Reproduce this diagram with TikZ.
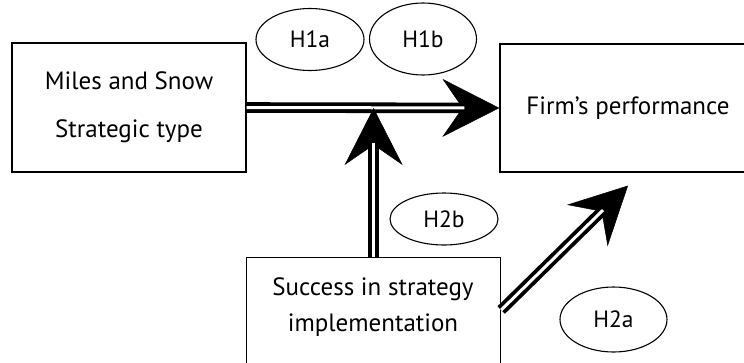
\documentclass[tikz,border=0pt]{standalone}
\usepackage{fontspec}
\setmainfont{PT Sans}
\usetikzlibrary{shapes.geometric, arrows.meta}

\begin{document}
\begin{tikzpicture}[x=1pt, y=-1pt,
    box/.style={draw, line width=1.2pt, inner sep=0pt, align=center, font=\fontsize{25}{48}\selectfont},
    hyp/.style={draw, ellipse, line width=1.1pt, inner sep=0pt, font=\fontsize{23.5}{28}\selectfont},
    link/.style={line width=3.8pt, double distance=3pt, shorten >=35pt},
    head/.style={line width=0.5pt, -{Stealth[length=57pt, width=58pt, inset=20pt]}}]
    \useasboundingbox (0,0) rectangle (744,362);

    % Boxes
    \node[box, minimum width=234pt, minimum height=129pt] (ms) at (129,107.5) {Miles and Snow\\Strategic type};
    \node[box, minimum width=256pt, minimum height=128pt] (fp) at (628,108) {Firm’s performance};
    \node[box, minimum width=254pt, minimum height=150pt, anchor=north west] (si) at (246,257) {};
    \node[font=\fontsize{25}{36}\selectfont, align=center] (sitext) at (373,307) {Success in strategy\\implementation};

    % Hypotheses
    \node[hyp, minimum width=108pt, minimum height=62pt] (h1a) at (310,39.5) {H1a};
    \node[hyp, minimum width=107pt, minimum height=72pt] (h1b) at (423,39) {H1b};
    \node[hyp, minimum width=108pt, minimum height=52pt] (h2b) at (444,219) {H2b};
    \node[hyp, minimum width=107pt, minimum height=65pt] (h2a) at (613.5,319.5) {H2a};

    % Free ends of the arrows
    \coordinate (siout) at ([yshift=-53pt]si.north east);
    \coordinate (fpin) at ([yshift=-13pt]fp.south);
    \coordinate (join) at (si.north |- fp.west);

    % Arrows (big head on a thin line, then the double shaft over it)
    \draw[head] (ms.east) -- (fp.west);
    \draw[link] (ms.east) -- (fp.west);
    \draw[head] (si.north) -- (join);
    \draw[link] (si.north) -- (join);
    \draw[head] (siout) -- (fpin);
    \draw[link] (siout) -- (fpin);
\end{tikzpicture}
\end{document}
